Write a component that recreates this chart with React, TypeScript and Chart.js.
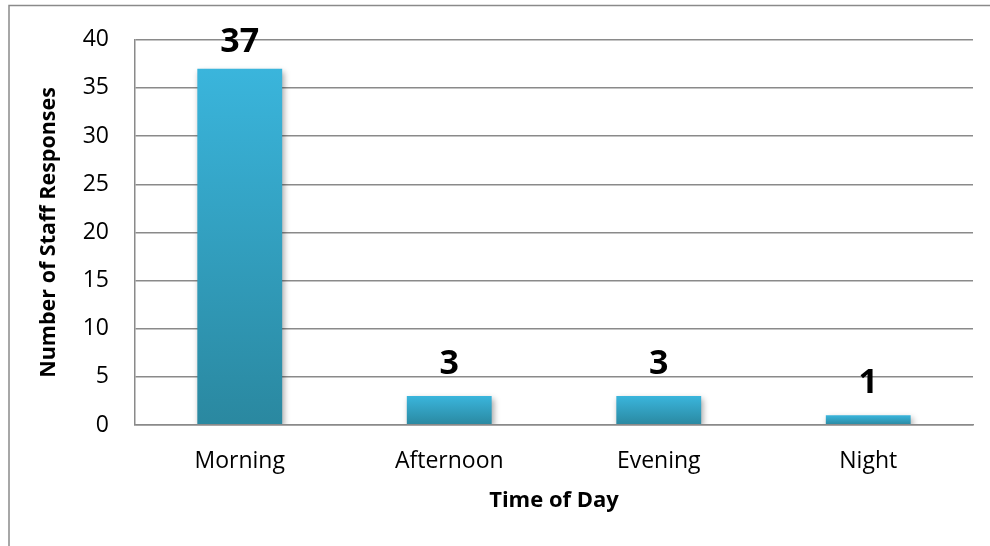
import React, { useEffect, useRef } from "react";
import { Chart, registerables } from "chart.js";

Chart.register(...registerables);

const categories = ["Morning", "Afternoon", "Evening", "Night"];
const responses = [37, 3, 3, 1];
const yMin = 0;
const yMax = 40;
const yStep = 5;
const xTitle = "Time of Day";
const yTitle = "Number of Staff Responses";

const FONT = "'Open Sans', 'Liberation Sans', sans-serif";
const GRID = "#8a8a8a";

export default function App() {
  const ref = useRef<HTMLCanvasElement>(null);

  useEffect(() => {
    document.body.style.margin = "0";
    const canvas = ref.current;
    if (!canvas) return;

    const decor = {
      id: "decor",
      beforeDraw(chart: any) {
        const c = chart.ctx;
        c.save();
        c.strokeStyle = GRID;
        c.lineWidth = 1.5;
        c.beginPath();
        c.moveTo(9, 546);
        c.lineTo(9, 5.5);
        c.lineTo(990, 5.5);
        c.stroke();
        c.restore();
      },
      beforeDatasetsDraw(chart: any) {
        const c = chart.ctx;
        c.save();
        c.shadowColor = "rgba(0,0,0,0.35)";
        c.shadowBlur = 6;
        c.shadowOffsetX = 2;
        c.shadowOffsetY = 3;
      },
      afterDatasetsDraw(chart: any) {
        const c = chart.ctx;
        c.restore();
        const meta = chart.getDatasetMeta(0);
        c.save();
        c.font = `bold 34px ${FONT}`;
        c.fillStyle = "#000";
        c.textAlign = "center";
        c.textBaseline = "alphabetic";
        meta.data.forEach((bar: any, i: number) => {
          const y = Math.max(bar.y - 22, chart.chartArea.top + 12);
          c.fillText(String(responses[i]), bar.x, y);
        });
        c.restore();
      },
    };

    const chart = new Chart(canvas, {
      type: "bar",
      data: {
        labels: categories,
        datasets: [
          {
            data: responses,
            backgroundColor: (ctx: any) => {
              const chart = ctx.chart;
              const ys = chart.scales && chart.scales.y;
              if (!ys || ctx.raw === undefined) return "#33a8cc";
              const top = ys.getPixelForValue(ctx.raw);
              const base = ys.getPixelForValue(0);
              if (!isFinite(top) || !isFinite(base) || top === base) return "#33a8cc";
              const g = chart.ctx.createLinearGradient(0, top, 0, base);
              g.addColorStop(0, "#3ab5dc");
              g.addColorStop(1, "#2a88a0");
              return g;
            },
            borderWidth: 0,
            barPercentage: 0.405,
            categoryPercentage: 1,
          },
        ],
      },
      options: {
        animation: false,
        responsive: false,
        maintainAspectRatio: false,
        layout: { padding: { left: 0, right: 17, top: 35, bottom: 0 } },
        plugins: {
          legend: { display: false },
          tooltip: { enabled: false },
        },
        scales: {
          x: {
            grid: { display: false, drawTicks: false },
            border: { display: true, color: GRID, width: 1.5, z: 1 },
            ticks: {
              color: "#000",
              font: { family: FONT, size: 23 },
              padding: 23,
            },
            title: {
              display: true,
              text: xTitle,
              color: "#000",
              font: { family: FONT, size: 22, weight: "bold" },
              padding: { top: 0, bottom: 32 },
            },
            afterFit: (s: any) => {
              s.height = 121;
            },
          },
          y: {
            min: yMin,
            max: yMax,
            grid: { color: GRID, lineWidth: 1.5, drawTicks: false },
            border: { display: true, color: GRID, width: 1.5 },
            ticks: {
              stepSize: yStep,
              color: "#000",
              font: { family: FONT, size: 23 },
              padding: 26,
            },
            title: {
              display: true,
              text: yTitle,
              color: "#000",
              font: { family: FONT, size: 21.5, weight: "bold" },
              padding: { top: 36, bottom: 0 },
            },
            afterFit: (s: any) => {
              s.width = 135;
            },
          },
        },
      },
      plugins: [decor],
    } as any);

    return () => chart.destroy();
  }, []);

  return (
    <div style={{ width: 990, height: 546 }}>
      <canvas ref={ref} width={990} height={546} style={{ display: "block" }} />
    </div>
  );
}
